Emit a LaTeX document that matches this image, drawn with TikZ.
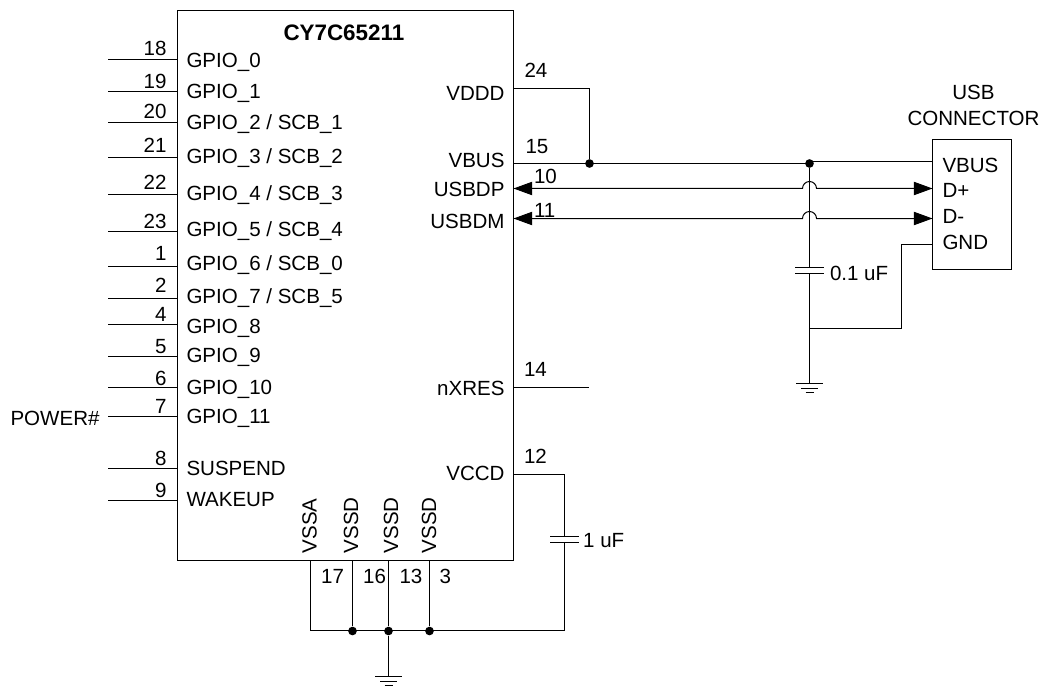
\documentclass[tikz,border=0pt]{standalone}
\usepackage{fontspec}
\setmainfont{Liberation Sans}
\usepackage{tikz}
\usetikzlibrary{calc,arrows.meta}
\tikzset{
  lab/.style={inner sep=0pt,yshift=-0.6pt,font=\fontsize{15.4}{18}\selectfont},
  labl/.style={lab,anchor=base west},
  labr/.style={lab,anchor=base east},
  juncdot/.style={circle,fill=black,inner sep=0pt,minimum size=6.5pt},
  bigarrow/.style={{Triangle[length=14pt,width=10pt]}-{Triangle[length=14pt,width=10pt]}}
}
\newcommand{\gndbars}[1]{
  \draw (#1)+(-13.5,0)--+(13.5,0);
  \draw (#1)+(-8.5,5)--+(8.5,5);
  \draw (#1)+(-4,9)--+(4,9);
}
\newcommand{\capbars}[1]{
  \draw[fill=white,draw=none] (#1)+(-14,-3) rectangle +(14,3);
  \draw (#1)+(-14.5,-3)--+(14.5,-3);
  \draw (#1)+(-14.5,3)--+(14.5,3);
}
\begin{document}
\begin{tikzpicture}[x=0.75pt,y=-0.75pt,line width=0.75pt]
  \useasboundingbox (0,0) rectangle (1042,688);
  \node (chip) [draw,inner sep=0pt,outer sep=0pt,minimum width=252pt,minimum height=412.5pt] at (345.5,285.5) {};
  \node (title) [labl,font=\fontsize{16.8}{18}\selectfont\bfseries] at (283,39.5) {CY7C65211};
  % left side pins
  \foreach \pinno/\wirey/\noy/\laby/\pinname in {
    18/59.5/54.5/66.5/{GPIO\_0},
    19/91.5/87.5/97.5/{GPIO\_1},
    20/122.5/117.5/128.5/{GPIO\_2 / SCB\_1},
    21/157.5/151.5/162.5/{GPIO\_3 / SCB\_2},
    22/194.5/188.5/199.5/{GPIO\_4 / SCB\_3},
    23/231.5/227.5/235.5/{GPIO\_5 / SCB\_4},
    1/266.5/259.5/269.5/{GPIO\_6 / SCB\_0},
    2/298.5/291.5/302.5/{GPIO\_7 / SCB\_5},
    4/324.5/320.5/332.5/{GPIO\_8},
    5/356.5/352.5/361.5/{GPIO\_9},
    6/387.5/384.5/393.5/{GPIO\_10},
    7/416.5/412.5/422.5/{GPIO\_11},
    8/468.5/464.5/474.5/{SUSPEND},
    9/500.5/496.5/505.5/{WAKEUP}}
  {
    \coordinate (pin\pinno) at (108,\wirey);
    \draw (pin\pinno)--(pin\pinno -| chip.west);
    \node (no\pinno) [labr] at (167,\noy) {\pinno};
    \node (name\pinno) [labl] at (186,\laby) {\pinname};
  }
  \node (power) [labr] at (100,424.5) {POWER\#};
  % right side of the chip
  \node (vddd) [labr] at (505,99.5) {VDDD};
  \node (vbus) [labr] at (505,167) {VBUS};
  \node (usbdp) [labr] at (505,195.5) {USBDP};
  \node (usbdm) [labr] at (505,227.5) {USBDM};
  \node (nxres) [labr] at (505,394.5) {nXRES};
  \node (vccd) [labr] at (505,479.5) {VCCD};
  \node (no24) [labl] at (524,77) {24};
  \node (no15) [labl] at (525,152.5) {15};
  \node (no10) [labl] at (533.5,183) {10};
  \node (no11) [labl] at (533.5,216.5) {11};
  \node (no14) [labl] at (523.5,375.5) {14};
  \node (no12) [labl] at (523.5,463) {12};
  % usb connector
  \node (usb) [draw,inner sep=0pt,outer sep=0pt,minimum width=59.25pt,minimum height=96.75pt] at (972,204.5) {};
  \node (usbtop) [lab,anchor=base] at (973.5,99) {USB};
  \node (usbname) [lab,anchor=base] at (973.5,124.5) {CONNECTOR};
  \node (usbvbus) [labl] at (942,171.5) {VBUS};
  \node (usbdplus) [labl] at (942,196.5) {D+};
  \node (usbdminus) [labl] at (942,223) {D-};
  \node (usbgnd) [labl] at (942,248.5) {GND};
  % nets
  \coordinate (w24) at (589.5,88.5);
  \coordinate (w15) at (514,163.5);
  \coordinate (w14) at (588.5,387.5);
  \node (dotvddd) [juncdot] at (589.5,163.5) {};
  \node (dotvbus) [juncdot] at (809.5,163.5) {};
  \draw (w24 -| chip.east)--(w24)--(dotvddd);
  \draw (w15 -| chip.east)--(dotvbus.center);
  \draw (dotvbus.center)--(809.5,161.5)--(usb.west |- 0,161.5);
  \draw (w14 -| chip.east)--(w14);
  \draw[bigarrow] (usb.west |- 0,188.5)--(816.5,188.5) arc[start angle=0,end angle=-180,radius=7]--(chip.east |- 0,188.5);
  \draw[bigarrow] (usb.west |- 0,218.5)--(816.5,218.5) arc[start angle=0,end angle=-180,radius=7]--(chip.east |- 0,218.5);
  % 0.1 uF branch
  \coordinate (gnda) at (809.5,383.5);
  \coordinate (cap1) at (809.5,270.5);
  \coordinate (tap) at (809.5,328.5);
  \draw (dotvbus)--(gnda);
  \capbars{cap1}
  \node (capone) [labl] at (829.5,279.5) {0.1 uF};
  \draw (usb.west |- 0,244.5)--(901.5,244.5)--(901.5,328.5)--(tap);
  \gndbars{gnda}
  % vss pins
  \node (vssa) [lab,rotate=90,anchor=base west] at (316.7,553) {VSSA};
  \node (vssd1) [lab,rotate=90,anchor=base west] at (358,553) {VSSD};
  \node (vssd2) [lab,rotate=90,anchor=base west] at (398,553) {VSSD};
  \node (vssd3) [lab,rotate=90,anchor=base west] at (436,553) {VSSD};
  \node (no17) [labl] at (320.7,583) {17};
  \node (no16) [labl] at (362.7,583) {16};
  \node (no13) [labl] at (399,583) {13};
  \node (no3) [labl] at (439,583) {3};
  \coordinate (railleft) at (310.5,630.5);
  \coordinate (railright) at (564.5,630.5);
  \node (dotb1) [juncdot] at (352.5,631) {};
  \node (dotb2) [juncdot] at (388.5,631) {};
  \node (dotb3) [juncdot] at (429.5,631) {};
  \coordinate (gndb) at (388.5,676.5);
  \draw (railleft |- chip.south)--(railleft)--(railright)--(564.5,474.5)--(chip.east |- 0,474.5);
  \draw (dotb1 |- chip.south)--(dotb1);
  \draw (dotb2 |- chip.south)--(dotb2);
  \draw (dotb3 |- chip.south)--(dotb3);
  \draw (dotb2)--(gndb);
  \gndbars{gndb}
  \coordinate (cap2) at (564.5,539.5);
  \capbars{cap2}
  \node (captwo) [labl] at (582.7,547) {1 uF};
\end{tikzpicture}
\end{document}
